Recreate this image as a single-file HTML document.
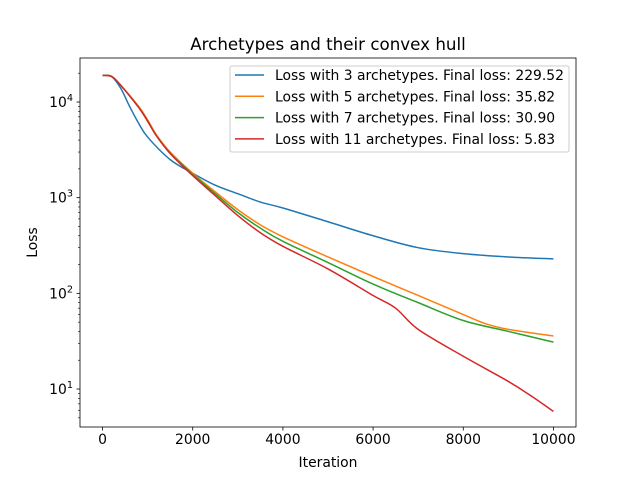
<!DOCTYPE html>
<html><head><meta charset="utf-8"><style>
body{margin:0;background:#fff}
svg{font-family:"DejaVu Sans","Liberation Sans",sans-serif;display:block}
</style></head><body>
<svg id="chart" width="640" height="480" viewBox="0 0 640 480">
<rect width="640" height="480" fill="#fff"/>
<g id="plot"></g>
</svg>
<script>
const iters3 = [0,200,400,600,800,1000,1500,2000,2500,3000,3500,4000,5000,6000,7000,8000,9000,10000];
const loss3 = [19000,18500,14000,9000,6000,4300,2500,1800,1350,1100,900,780,560,400,300,260,240,229.52];
const iters5 = [0,200,400,800,1000,1200,1500,2000,2500,3000,3500,4000,5000,6000,7000,8000,8500,9000,10000];
const loss5 = [19000,18500,15000,9000,6500,4500,3000,1800,1150,750,520,390,240,150,95,60,48,42,35.82];
const iters7 = [0,200,400,800,1000,1200,1500,2000,2500,3000,3500,4000,5000,6000,7000,8000,9000,10000];
const loss7 = [19000,18500,15000,8800,6300,4400,2900,1750,1100,700,480,350,210,125,80,52,40,30.90];
const iters11 = [0,200,400,800,1000,1200,1500,2000,2500,3000,3500,4000,5000,6000,6500,7000,8000,9000,9500,10000];
const loss11 = [19000,18500,15000,8800,6300,4400,2900,1700,1050,650,430,310,180,95,70,42,22,12,8.5,5.83];
const seriesLabels = ["Loss with 3 archetypes. Final loss: 229.52","Loss with 5 archetypes. Final loss: 35.82","Loss with 7 archetypes. Final loss: 30.90","Loss with 11 archetypes. Final loss: 5.83"];
const xTicks = [0,2000,4000,6000,8000,10000];
const yDecades = [1,2,3,4];

const NS="http://www.w3.org/2000/svg";
const L=80,R=576,T=58,B=427;
const xMin=-500,xMax=10500, yMinL=0.603, yMaxL=4.46;
const xs=v=>L+(v-xMin)/(xMax-xMin)*(R-L);
const ys=v=>B-(Math.log10(v)-yMinL)/(yMaxL-yMinL)*(B-T);
const g=document.getElementById('plot');
function mk(tag,attrs,parent){const e=document.createElementNS(NS,tag);for(const k in attrs)e.setAttribute(k,attrs[k]);(parent||g).appendChild(e);return e;}
function smooth(P){
  let d="M"+P[0][0].toFixed(2)+","+P[0][1].toFixed(2);
  for(let i=0;i<P.length-1;i++){
    const p0=P[Math.max(0,i-1)],p1=P[i],p2=P[i+1],p3=P[Math.min(P.length-1,i+2)];
    const c1=[p1[0]+(p2[0]-p0[0])/6,p1[1]+(p2[1]-p0[1])/6];
    const c2=[p2[0]-(p3[0]-p1[0])/6,p2[1]-(p3[1]-p1[1])/6];
    d+=" C"+c1.map(v=>v.toFixed(2))+" "+c2.map(v=>v.toFixed(2))+" "+p2.map(v=>v.toFixed(2));
  }
  return d;
}
const colors=["#1f77b4","#ff7f0e","#2ca02c","#d62728"];
const data=[[iters3,loss3],[iters5,loss5],[iters7,loss7],[iters11,loss11]];
const names=["line-3-archetypes","line-5-archetypes","line-7-archetypes","line-11-archetypes"];
data.forEach((d,i)=>{
  const P=d[0].map((x,j)=>[xs(x),ys(d[1][j])]);
  const p=mk('path',{d:smooth(P),fill:'none',stroke:colors[i],'stroke-width':1.5,'stroke-linejoin':'round'});
  
  
});
const fr=mk('rect',{x:L,y:T,width:R-L,height:B-T,fill:'none',stroke:'#000','stroke-width':0.8});


xTicks.forEach(v=>{
  const x=xs(v);
  mk('line',{x1:x,x2:x,y1:B,y2:B+3.5,stroke:'#000','stroke-width':0.8});
  const t=mk('text',{x:x,y:B+17,'text-anchor':'middle','font-size':'13.9px'});
  t.textContent=v;
  
  
});
yDecades.forEach(d=>{
  const y=ys(Math.pow(10,d));
  mk('line',{x1:L-3.5,x2:L,y1:y,y2:y,stroke:'#000','stroke-width':0.8});
  const t=mk('text',{x:L-7,y:y+5,'text-anchor':'end','font-size':'13.9px'});
  t.innerHTML='10<tspan dy="-6" font-size="9.7px">'+d+'</tspan>';
  
  
});
for(let d=0;d<=4;d++){for(let m=2;m<=9;m++){const v=m*Math.pow(10,d);const y=ys(v);if(y<T||y>B)continue;mk('line',{x1:L-2,x2:L,y1:y,y2:y,stroke:'#000','stroke-width':0.6});}}
const xl=mk('text',{x:(L+R)/2,y:467,'text-anchor':'middle','font-size':'13.9px'});xl.textContent='Iteration';


const yl=mk('text',{x:0,y:0,'text-anchor':'middle','font-size':'13.9px',transform:'translate(37,'+((T+B)/2)+') rotate(-90)'});yl.textContent='Loss';


const ti=mk('text',{x:(L+R)/2,y:50,'text-anchor':'middle','font-size':'16.7px'});ti.textContent='Archetypes and their convex hull';


const lg=mk('g',{});


mk('rect',{x:230,y:66,width:339,height:86,rx:2,fill:'#fff','fill-opacity':0.8,stroke:'#ccc','stroke-width':1},lg);
seriesLabels.forEach((s,i)=>{
  const y=75+i*21.3;
  const e=mk('g',{},lg);
  
  
  mk('line',{x1:235,x2:264,y1:y,y2:y,stroke:colors[i],'stroke-width':1.5},e);
  const t=mk('text',{x:275,y:y+5,'font-size':'13.9px'},e);t.textContent=s;
});
</script>
</body></html>
